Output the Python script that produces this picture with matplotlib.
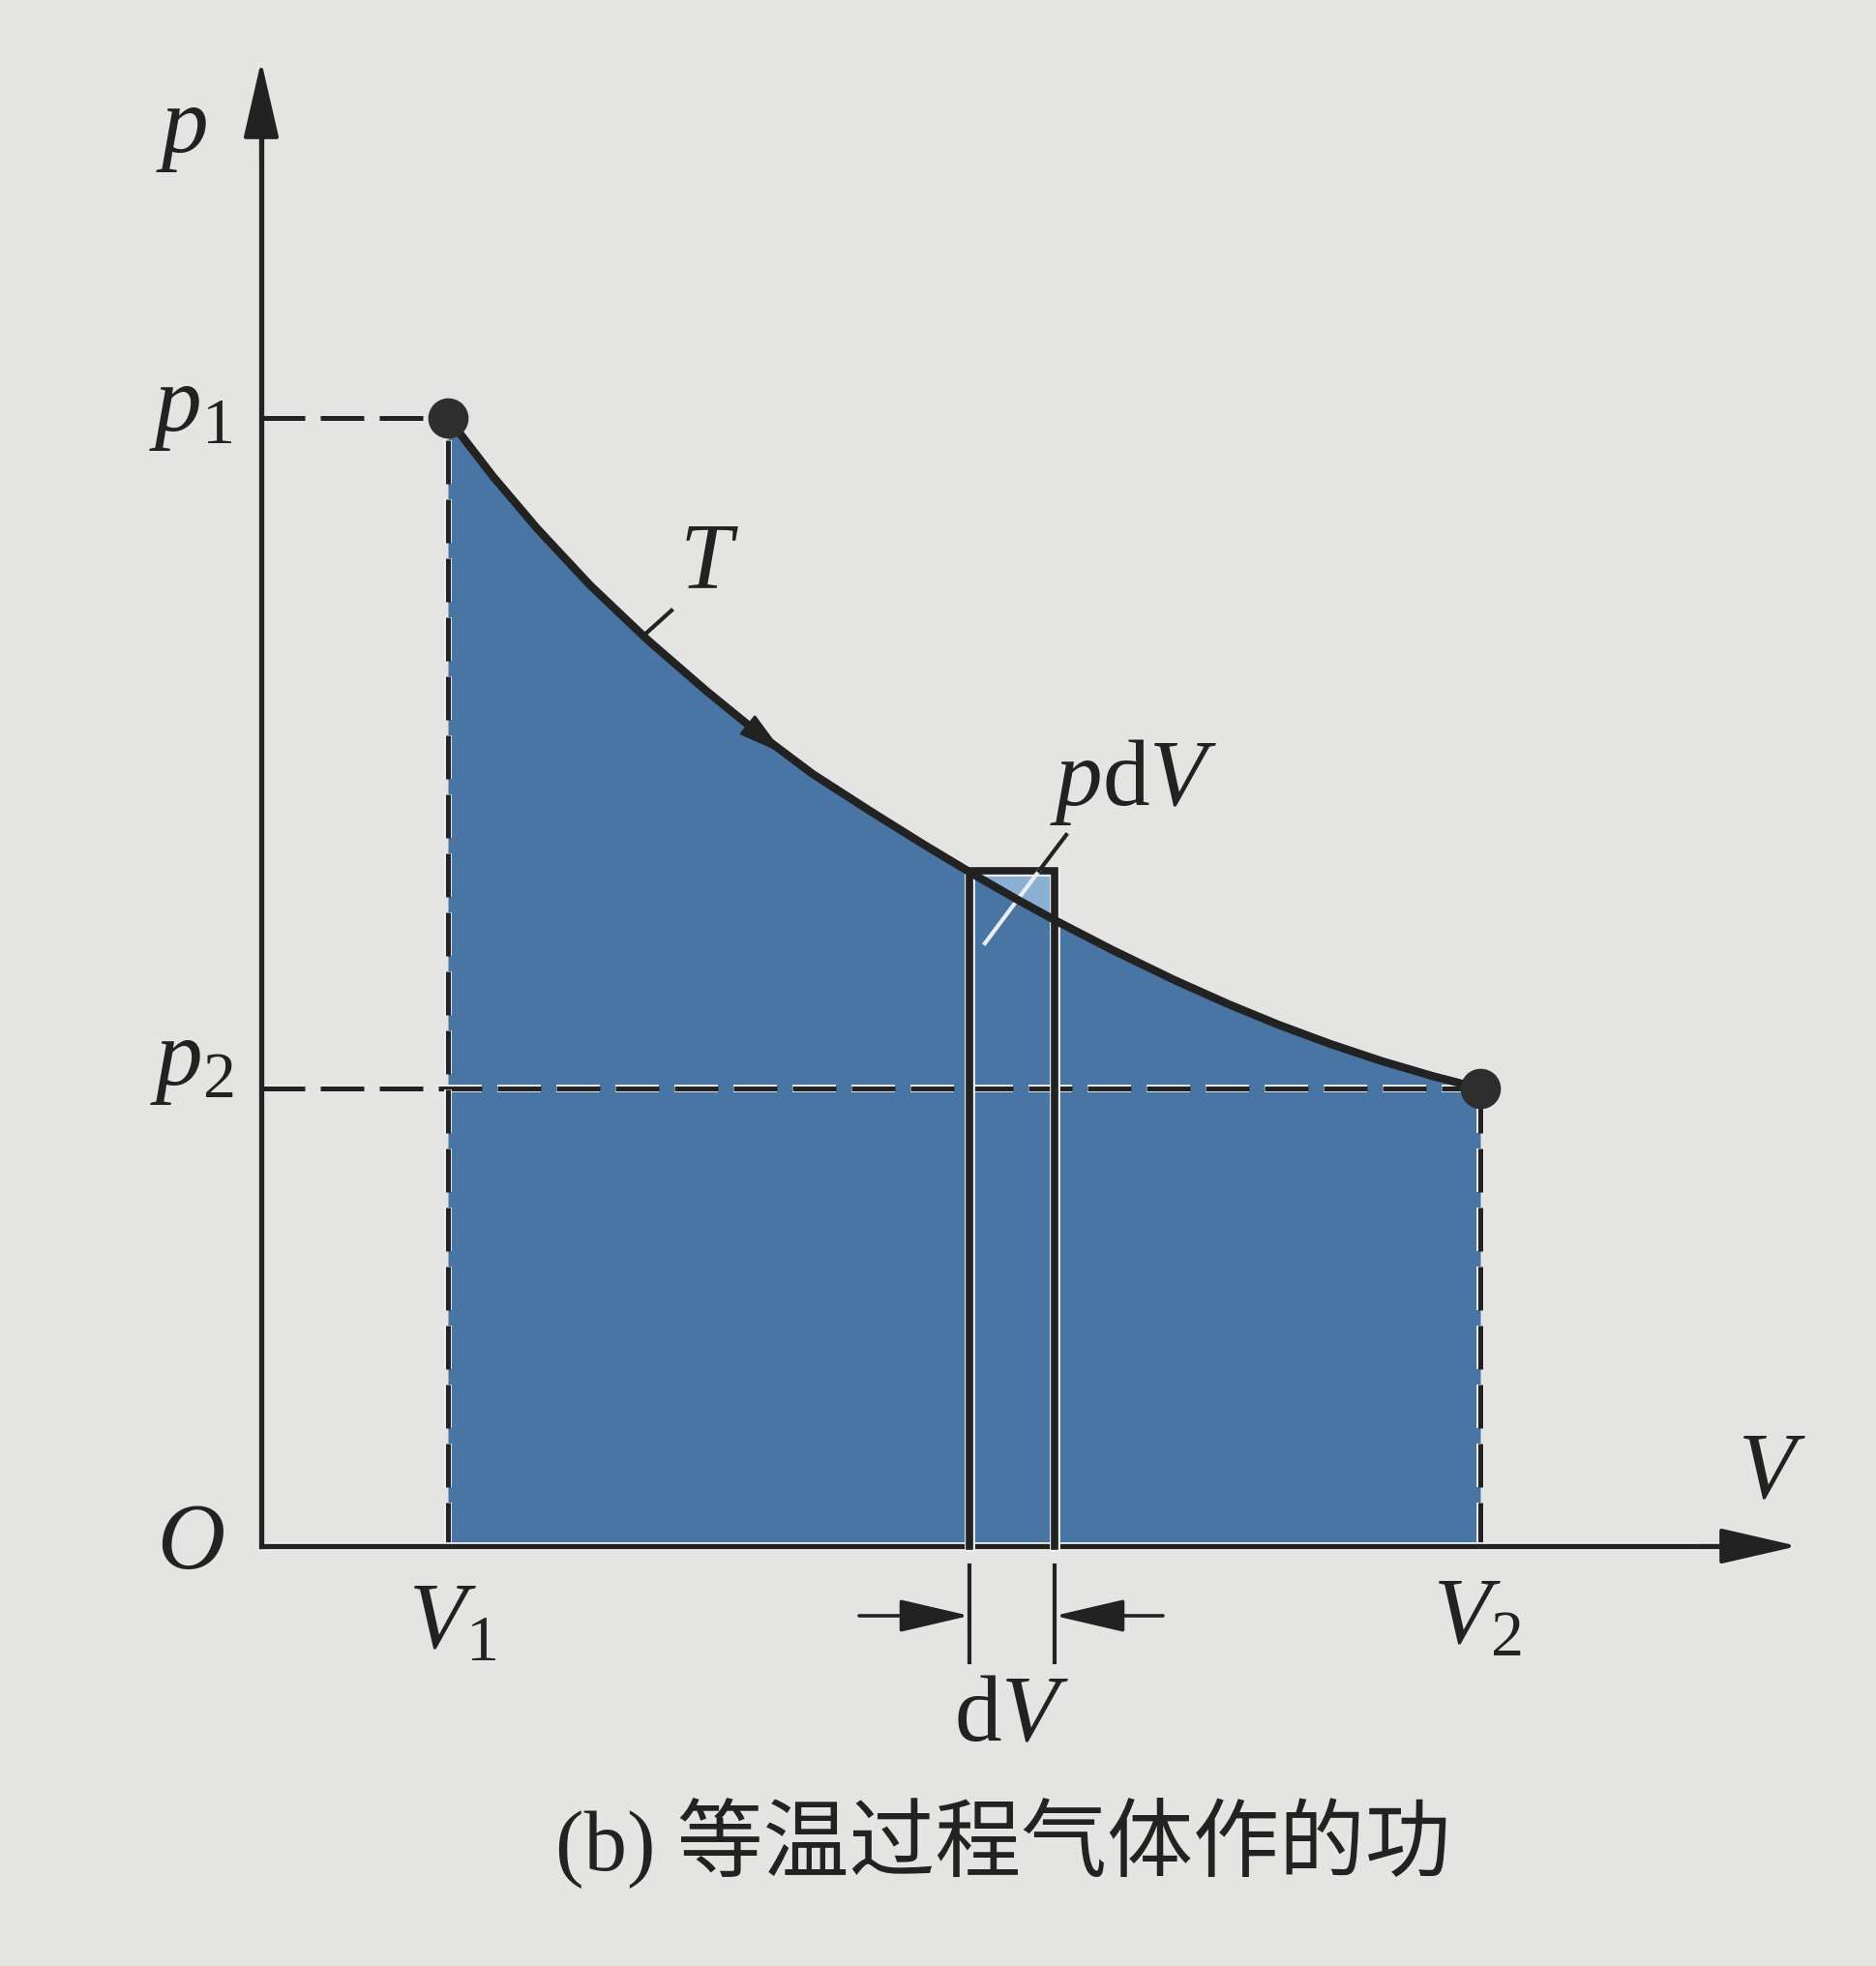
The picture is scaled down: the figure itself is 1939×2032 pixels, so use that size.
import numpy as np
import matplotlib
matplotlib.use("Agg")
import matplotlib.pyplot as plt
import matplotlib.patheffects as pe

plt.rcParams['mathtext.fontset'] = 'custom'
plt.rcParams['mathtext.rm'] = 'Liberation Serif'
plt.rcParams['mathtext.it'] = 'Liberation Serif:italic'

# ---------------- data ----------------
V_curve = [1.93, 2.40, 2.85, 3.40, 4.00, 4.60, 5.14, 5.70, 6.29, 6.85, 7.35,
           7.80, 8.22, 8.80, 9.44, 10.00, 10.51, 11.05, 11.59, 12.10, 12.60]
p_curve = [11.66, 11.05, 10.52, 9.93, 9.36, 8.84, 8.40, 7.98, 7.60, 7.25, 6.95,
           6.69, 6.46, 6.16, 5.85, 5.60, 5.39, 5.19, 5.01, 4.86, 4.73]
V1, V2 = 1.93, 12.60
p1, p2 = 11.66, 4.73
strip_V = [7.32, 8.20]          # dV strip edges
strip_top = 6.98                # p at left edge of strip
axis_top = 15.35                # p-axis arrow tip
axis_right = 15.88              # V-axis arrow tip
dV_arrow_y = -0.72
dV_arrow_tails = [6.18, 9.32]
dV_tick_span = [-0.20, -1.20]
flow_arrow = [(5.05, 8.47), (5.40, 8.19)]     # direction arrow on the isotherm
T_leader = [(4.24, 9.67), (3.94, 9.40)]
pdV_leader = [(8.32, 7.35), (8.04, 6.98), (7.48, 6.23)]

labels = [("$p$", -0.82, 14.65), ("$p_1$", -0.73, 11.77), ("$p_2$", -0.72, 5.01),
          ("$O$", -0.73, 0.03), ("$V_1$", 1.98, -0.79), ("$V_2$", 12.57, -0.74),
          ("$V$", 15.61, 0.77), (r"$\mathrm{d}V$", 7.76, -1.74),
          ("$T$", 4.63, 10.16), (r"$p\mathrm{d}V$", 9.02, 7.90)]
caption = "(b) 等温过程气体作的功"
caption_pos = (7.67, -3.07)

# ---------------- style ----------------
BG = "#e4e4e2"
BLUE = "#4875a4"
LIGHT = "#8cb0d4"
INK = "#222222"
FS = 70

fig = plt.figure(figsize=(19.39, 20.32), dpi=100, facecolor=BG)
ax = fig.add_axes([0, 0, 1, 1])
ax.set_facecolor(BG)
ax.set_xlim(-2.70, 16.69)
ax.set_ylim(-4.34, 15.98)
ax.axis("off")

halo = lambda w: [pe.Stroke(linewidth=w, foreground="#eef0f0"), pe.Normal()]

# strip (lighter) under the main fill
ax.fill_between(strip_V, [strip_top, strip_top], [0, 0], color=LIGHT, lw=0, zorder=1)
# area under the isotherm
ax.fill_between(V_curve, p_curve, 0, color=BLUE, lw=0, zorder=2)

# dashed guide lines
dash = (0, (9.0, 3.2))
ax.plot([0, V1], [p1, p1], color=INK, lw=3.6, ls=dash, zorder=3)
ax.plot([0, V2], [p2, p2], color=INK, lw=3.6, ls=dash, zorder=3,
        path_effects=halo(5.6))
ax.plot([V1, V1], [0, p1], color=INK, lw=3.6, ls=dash, zorder=3,
        path_effects=halo(5.6))
ax.plot([V2, V2], [0, p2], color=INK, lw=3.6, ls=dash, zorder=3,
        path_effects=halo(5.6))

# strip outline
ax.plot([strip_V[0], strip_V[0], strip_V[1], strip_V[1]],
        [0, strip_top, strip_top, 0], color=INK, lw=5.5, zorder=5,
        solid_joinstyle="miter", path_effects=halo(7.8))

# pdV leader (black outside strip, white inside)
ax.plot([pdV_leader[0][0], pdV_leader[1][0]], [pdV_leader[0][1], pdV_leader[1][1]],
        color=INK, lw=3, zorder=6)
ax.plot([pdV_leader[1][0], pdV_leader[2][0]], [pdV_leader[1][1], pdV_leader[2][1]],
        color="#e8eef4", lw=3, zorder=5.5)

# isotherm
ax.plot(V_curve, p_curve, color=INK, lw=6, zorder=6, solid_capstyle="round")
ax.annotate("", xy=flow_arrow[1], xytext=flow_arrow[0],
            arrowprops=dict(arrowstyle="-|>,head_length=30,head_width=8",
                            mutation_scale=1, lw=2, color=INK,
                            shrinkA=0, shrinkB=0), zorder=7)
ax.plot([T_leader[0][0], T_leader[1][0]], [T_leader[0][1], T_leader[1][1]],
        color=INK, lw=3, zorder=6)

# end points
ax.plot([V1, V2], [p1, p2], "o", color="#2e2e2e", ms=29, zorder=8)

# axes with arrows
ax.plot([0, axis_right - 0.3], [0, 0], color=INK, lw=3.8, zorder=4,
        path_effects=halo(6.4))
ax.plot([0, 0], [0, axis_top - 0.3], color=INK, lw=3.8, zorder=4)
ax.annotate("", xy=(axis_right, 0), xytext=(axis_right - 1.0, 0),
            arrowprops=dict(arrowstyle="-|>,head_length=50,head_width=11.5",
                            mutation_scale=1, lw=3, color=INK,
                            shrinkA=0, shrinkB=0), zorder=4)
ax.annotate("", xy=(0, axis_top), xytext=(0, axis_top - 1.0),
            arrowprops=dict(arrowstyle="-|>,head_length=50,head_width=11.5",
                            mutation_scale=1, lw=3, color=INK,
                            shrinkA=0, shrinkB=0), zorder=4)

# dV dimension marks
for xv in strip_V:
    ax.plot([xv, xv], dV_tick_span, color=INK, lw=3, zorder=4)
ax.annotate("", xy=(strip_V[0], dV_arrow_y), xytext=(dV_arrow_tails[0], dV_arrow_y),
            arrowprops=dict(arrowstyle="-|>,head_length=45,head_width=10.5",
                            mutation_scale=1, lw=2.6, color=INK,
                            shrinkA=0, shrinkB=0))
ax.annotate("", xy=(strip_V[1], dV_arrow_y), xytext=(dV_arrow_tails[1], dV_arrow_y),
            arrowprops=dict(arrowstyle="-|>,head_length=45,head_width=10.5",
                            mutation_scale=1, lw=2.6, color=INK,
                            shrinkA=0, shrinkB=0))

# labels
for txt, x, y in labels:
    ax.text(x, y, txt, fontsize=FS, color=INK, ha="center", va="center", zorder=9)

ax.text(caption_pos[0], caption_pos[1], caption, fontsize=64, color=INK,
        ha="center", va="center",
        family=["Liberation Serif", "Noto Sans CJK SC"])

fig.savefig("out.png", dpi=100, facecolor=BG)
